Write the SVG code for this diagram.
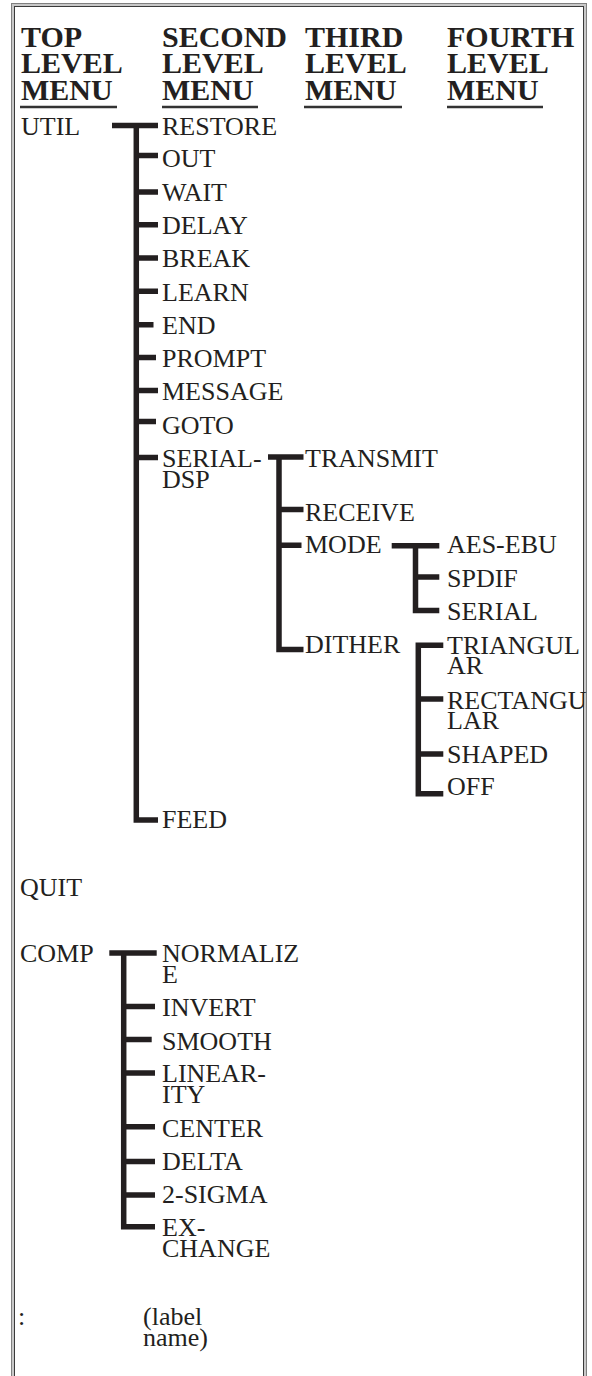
<svg xmlns="http://www.w3.org/2000/svg" width="592" height="1376" viewBox="0 0 592 1376">
<style>
.t{font-family:"Liberation Serif","Times New Roman",serif;font-size:26px;fill:#231f20}
.h{font-family:"Liberation Serif","Times New Roman",serif;font-size:30px;font-weight:bold;fill:#231f20}
.c{fill:none;stroke:#231f20;stroke-width:5.5;stroke-linecap:butt;stroke-linejoin:miter}
.u{stroke:#333;stroke-width:2.5}
</style>
<rect width="592" height="1376" fill="#fff"/>
<g id="frame">
<rect x="11.5" y="3.5" width="575" height="1400" fill="none" stroke="#808080"/>
<rect x="13" y="5" width="572" height="1400" fill="none" stroke="#c8c8c8" stroke-width="2"/>
<rect x="14.5" y="6.5" width="569" height="1400" fill="none" stroke="#3a3a3a"/>
</g>
<g id="headers">
<text class="h"><tspan x="21" y="47">TOP</tspan><tspan x="21" y="73">LEVEL</tspan><tspan x="21" y="100">MENU</tspan></text>
<text class="h"><tspan x="162" y="47">SECOND</tspan><tspan x="162" y="73">LEVEL</tspan><tspan x="162" y="100">MENU</tspan></text>
<text class="h"><tspan x="305" y="47">THIRD</tspan><tspan x="305" y="73">LEVEL</tspan><tspan x="305" y="100">MENU</tspan></text>
<text class="h"><tspan x="447" y="47">FOURTH</tspan><tspan x="447" y="73">LEVEL</tspan><tspan x="447" y="100">MENU</tspan></text>
<line class="u" x1="20" y1="107" x2="117" y2="107"/>
<line class="u" x1="162" y1="107" x2="258" y2="107"/>
<line class="u" x1="304" y1="107" x2="402" y2="107"/>
<line class="u" x1="447" y1="107" x2="543" y2="107"/>
</g>
<g id="connectors">
<path class="c" d="M112 125.5H158M136.3 122.75V820H158M136.3 155.5H158M136.3 192H158M136.3 224.7H158M136.3 258H158M136.3 291.3H158M136.3 324.7H153.5M136.3 357.5H156M136.3 390.5H158M136.3 421.5H156M136.3 457.5H158"/>
<path class="c" d="M268 457H303.5M279 454.25V649.5H303.5M279 509.5H303.5M279 545.3H301.5"/>
<path class="c" d="M391.7 545.8H439.3M415.5 543V610.5H439.3M415.5 577H439.3"/>
<path class="c" d="M443.3 645.3H418.3V793.8H443.3M418.3 699H443.3M418.3 754H443.3"/>
<path class="c" d="M109.3 953H156.7M123.7 950.25V1226.7H155M123.7 1006.5H155M123.7 1039.5H151.7M123.7 1073H155M123.7 1126.7H155M123.7 1161.5H155M123.7 1195H155"/>
</g>
<g id="n-util"><text class="t" x="21" y="134.5">UTIL</text></g>
<g id="n-restore"><text class="t" x="162" y="134.5">RESTORE</text></g>
<g id="n-out"><text class="t" x="162" y="167">OUT</text></g>
<g id="n-wait"><text class="t" x="162" y="200.5">WAIT</text></g>
<g id="n-delay"><text class="t" x="162" y="234">DELAY</text></g>
<g id="n-break"><text class="t" x="162" y="267.3">BREAK</text></g>
<g id="n-learn"><text class="t" x="162" y="300.5">LEARN</text></g>
<g id="n-end"><text class="t" x="162" y="333.5">END</text></g>
<g id="n-prompt"><text class="t" x="162" y="367">PROMPT</text></g>
<g id="n-message"><text class="t" x="162" y="400">MESSAGE</text></g>
<g id="n-goto"><text class="t" x="162" y="433.5">GOTO</text></g>
<g id="n-serial-dsp"><text class="t"><tspan x="162" y="467">SERIAL-</tspan><tspan x="162" y="487.5">DSP</tspan></text></g>
<g id="n-transmit"><text class="t" x="305" y="466.7">TRANSMIT</text></g>
<g id="n-receive"><text class="t" x="305" y="521">RECEIVE</text></g>
<g id="n-mode"><text class="t" x="305" y="553.3">MODE</text></g>
<g id="n-aes-ebu"><text class="t" x="447" y="553.3">AES-EBU</text></g>
<g id="n-spdif"><text class="t" x="447" y="586.7">SPDIF</text></g>
<g id="n-serial"><text class="t" x="447" y="620">SERIAL</text></g>
<g id="n-dither"><text class="t" x="305" y="653.3">DITHER</text></g>
<g id="n-triangular"><text class="t"><tspan x="447" y="654">TRIANGUL</tspan><tspan x="447" y="674.3">AR</tspan></text></g>
<g id="n-rectangular"><text class="t"><tspan x="447" y="709.3">RECTANGU</tspan><tspan x="447" y="729.3">LAR</tspan></text></g>
<g id="n-shaped"><text class="t" x="447" y="762.7">SHAPED</text></g>
<g id="n-off"><text class="t" x="447" y="795.3">OFF</text></g>
<g id="n-feed"><text class="t" x="162" y="828.3">FEED</text></g>
<g id="n-quit"><text class="t" x="20" y="895.7">QUIT</text></g>
<g id="n-comp"><text class="t" x="20" y="962.3">COMP</text></g>
<g id="n-normalize"><text class="t"><tspan x="162" y="962.3">NORMALIZ</tspan><tspan x="162" y="982.7">E</tspan></text></g>
<g id="n-invert"><text class="t" x="162" y="1016">INVERT</text></g>
<g id="n-smooth"><text class="t" x="162" y="1050">SMOOTH</text></g>
<g id="n-linearity"><text class="t"><tspan x="162" y="1082.3">LINEAR-</tspan><tspan x="162" y="1103.3">ITY</tspan></text></g>
<g id="n-center"><text class="t" x="162" y="1136.7">CENTER</text></g>
<g id="n-delta"><text class="t" x="162" y="1170">DELTA</text></g>
<g id="n-2sigma"><text class="t" x="162" y="1203.3">2-SIGMA</text></g>
<g id="n-exchange"><text class="t"><tspan x="162" y="1236">EX-</tspan><tspan x="162" y="1257.3">CHANGE</tspan></text></g>
<g id="n-colon"><text class="t" x="18" y="1325">:</text></g>
<g id="n-labelname"><text class="t"><tspan x="143" y="1325">(label</tspan><tspan x="143" y="1346">name)</tspan></text></g>
</svg>
